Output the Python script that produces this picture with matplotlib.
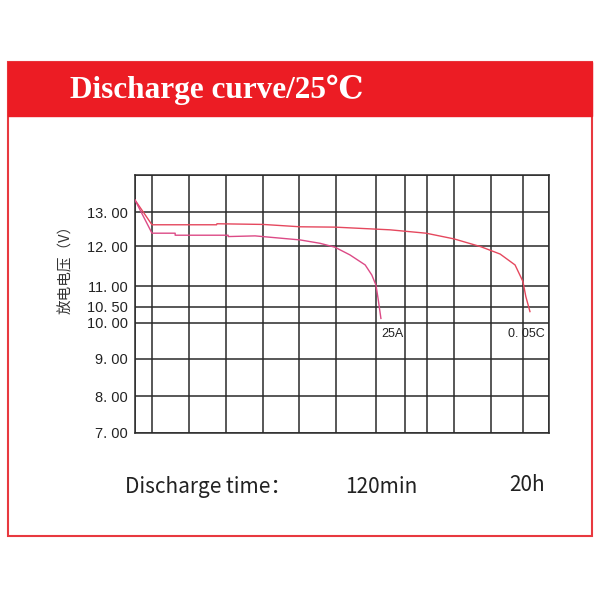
import numpy as np
import matplotlib
matplotlib.use("Agg")
import matplotlib.pyplot as plt
from matplotlib.patches import Rectangle

# ---- data ----
y_ticks = [7.0, 8.0, 9.0, 10.0, 10.5, 11.0, 12.0, 13.0, 14.0]
y_tick_labels = ["7. 00", "8. 00", "9. 00", "10. 00", "10. 50", "11. 00", "12. 00", "13. 00", ""]
# relative drawn position of each voltage gridline (the original grid is not evenly spaced)
y_tick_pos = [0, 37, 74, 110, 126.3, 146.7, 187, 220.7, 258]

x_grid = [0, 4.1, 13.0, 22.0, 30.9, 39.6, 48.6, 58.2, 65.2, 70.5, 77.1, 86.0, 93.7, 100]

t_05C = [0, 4.1, 19.7, 19.8, 30.9, 39.9, 48.3, 61.6, 70.3, 77.1, 83.6, 88.2, 91.8, 93.7, 94.4, 95.4]
v_05C = [13.33, 12.63, 12.63, 12.66, 12.64, 12.57, 12.56, 12.48, 12.38, 12.21, 11.98, 11.80, 11.53, 11.12, 10.75, 10.35]

t_25A = [0, 4.1, 9.7, 9.7, 22.5, 22.5, 29.0, 39.9, 44.7, 48.3, 51.9, 55.6, 57.2, 58.2, 58.7, 59.4]
v_25A = [13.33, 12.38, 12.38, 12.32, 12.32, 12.28, 12.30, 12.18, 12.08, 11.97, 11.78, 11.53, 11.28, 11.03, 10.71, 10.14]

title = "Discharge curve/25℃"
y_label = "放电电压（V）"
time_label = "Discharge time："
time_25A = "120min"
time_05C = "20h"

fig = plt.figure(figsize=(6, 6), dpi=100)
W, H = 600, 600

def fx(px):
    return px / W

def fy(py):
    return 1 - py / H

# outer frame and header
red = "#ec1c24"
fig.patches.append(Rectangle((fx(8), fy(536)), fx(592) - fx(8), fy(62) - fy(536),
                             transform=fig.transFigure, facecolor="white",
                             edgecolor="#e8393f", linewidth=1.5, zorder=-3))
fig.patches.append(Rectangle((fx(8), fy(116)), fx(592) - fx(8), fy(62) - fy(116),
                             transform=fig.transFigure, facecolor=red,
                             edgecolor=red, linewidth=1.0, zorder=-2))
fig.text(fx(70), fy(90), title, color="white", fontsize=22.5, fontweight="bold",
         family=["Liberation Serif", "DejaVu Serif"], ha="left", va="center")

ax = fig.add_axes([fx(135), fy(433), fx(549) - fx(135), fy(175) - fy(433)])
ax.set_zorder(2)

def fwd(v):
    return np.interp(v, y_ticks, y_tick_pos)

def inv(p):
    return np.interp(p, y_tick_pos, y_ticks)

ax.set_yscale("function", functions=(fwd, inv))
ax.set_ylim(7.0, 14.0)
ax.set_xlim(0, 100)

ax.set_yticks(y_ticks)
ax.set_yticklabels(y_tick_labels, fontsize=10.5, color="#222222",
                   family=["Liberation Sans", "DejaVu Sans"])
ax.set_xticks(x_grid)
ax.set_xticklabels([])
ax.tick_params(axis="both", length=0)
ax.tick_params(axis="y", pad=5)
ax.grid(True, color="#2a2a2a", linewidth=1.1)
for s in ax.spines.values():
    s.set_color("#2a2a2a")
    s.set_linewidth(1.1)

ax.plot(t_05C, v_05C, color="#e5485e", linewidth=1.0, zorder=3)
ax.plot(t_25A, v_25A, color="#dc4a86", linewidth=1.0, zorder=3)

ax.text(t_25A[-1], 9.7, "25A", fontsize=9, color="#222222", ha="left", va="center",
        family=["Liberation Sans", "DejaVu Sans"])
ax.text(t_05C[-1] + 3.5, 9.7, "0. 05C", fontsize=9, color="#222222", ha="right", va="center",
        family=["Liberation Sans", "DejaVu Sans"])

fig.text(fx(66), fy(266), y_label, rotation=90, fontsize=10.5, color="#333333",
         family=["Noto Sans CJK SC", "DejaVu Sans"], ha="center", va="center")

cjk = ["Noto Sans CJK SC", "DejaVu Sans"]
fig.text(fx(125), fy(487), time_label, fontsize=15, color="#222222", family=cjk,
         ha="left", va="center")
fig.text(fx(381), fy(487), time_25A, fontsize=15, color="#222222", family=cjk,
         ha="center", va="center")
fig.text(fx(527), fy(485), time_05C, fontsize=15, color="#222222", family=cjk,
         ha="center", va="center")

fig.savefig("out.png", dpi=100, facecolor="white")
